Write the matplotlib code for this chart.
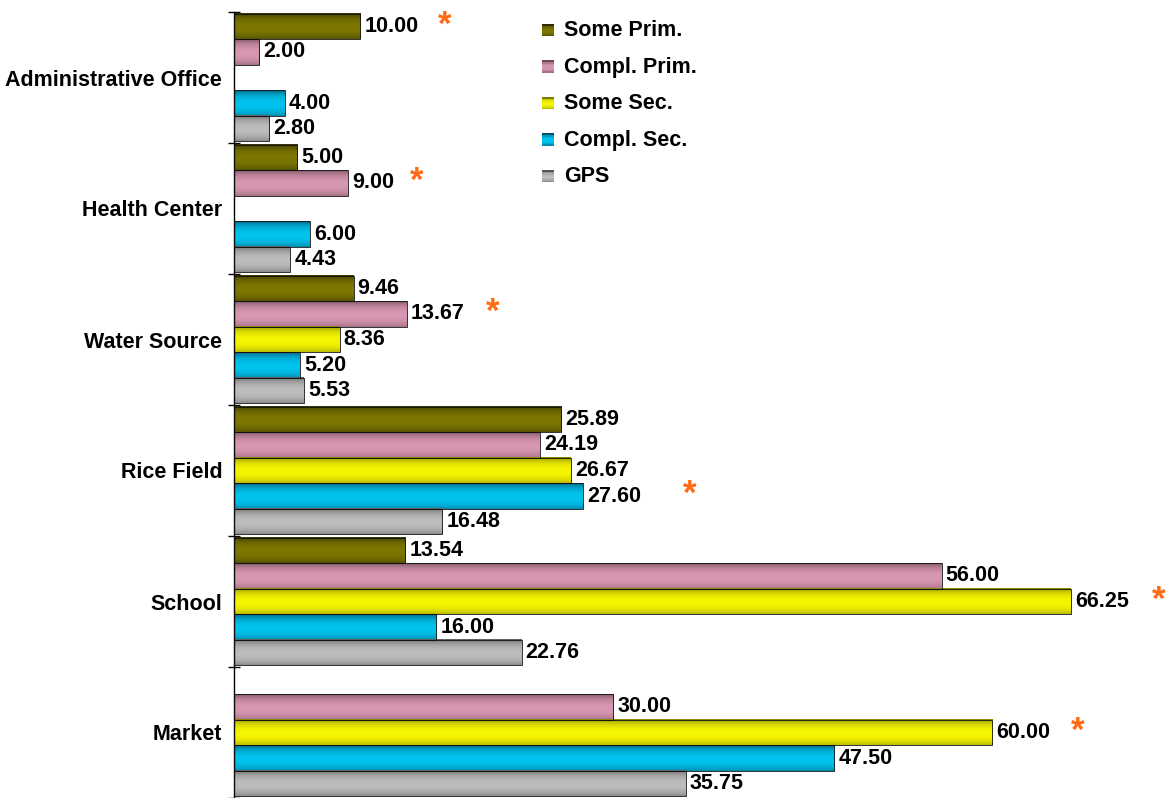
import numpy as np
import matplotlib
matplotlib.use("Agg")
import matplotlib.pyplot as plt
from matplotlib.patches import Rectangle
from matplotlib.legend_handler import HandlerBase
from matplotlib.colors import to_rgb

plt.rcParams['font.family'] = ['Liberation Sans', 'DejaVu Sans']
plt.rcParams['font.weight'] = 'bold'

categories = ["Administrative Office", "Health Center", "Water Source",
              "Rice Field", "School", "Market"]
series_names = ["Some Prim.", "Compl. Prim.", "Some Sec.", "Compl. Sec.", "GPS"]
some_prim = [10.00, 5.00, 9.46, 25.89, 13.54, np.nan]
compl_prim = [2.00, 9.00, 13.67, 24.19, 56.00, 30.00]
some_sec = [np.nan, np.nan, 8.36, 26.67, 66.25, 60.00]
compl_sec = [4.00, 6.00, 5.20, 27.60, 16.00, 47.50]
gps = [2.80, 4.43, 5.53, 16.48, 22.76, 35.75]
star_series = [0, 1, 1, 3, 2, 2]  # series index marked with * in each category

series = [some_prim, compl_prim, some_sec, compl_sec, gps]
# (edge colour, centre colour)
colors = [("#2e2c00", "#7d7700"),
          ("#6e4858", "#d897b2"),
          ("#7a7a00", "#f6f600"),
          ("#00506e", "#00c4ee"),
          ("#555555", "#bdbdbd")]
star_dx = [61, 50, 62, 77, 63, 62]  # asterisk offset from bar end (points)

W, H = 1171, 798
fig = plt.figure(figsize=(W / 100, H / 100), dpi=100)
ax_left = 234 / W
ax_top = 12 / H
ax = fig.add_axes([ax_left, 0, 1 - ax_left, 1 - ax_top])

px_per_unit = (1071 - 234) / 66.25
xmax = (W - 234) / px_per_unit
n = len(categories)

def profile(c_edge, c_mid, N=64):
    e = np.array(to_rgb(c_edge)); m = np.array(to_rgb(c_mid))
    t = np.linspace(0, 1, N)
    w = np.clip(1 - ((t - 0.55) / 0.55) ** 2, 0, 1) ** 0.6
    return e[None, :] * (1 - w[:, None]) + m[None, :] * w[:, None]

FS = 15.5
bh = 0.195
ns = len(series)
for s, vals in enumerate(series):
    grad = profile(*colors[s])[:, None, :]
    for i, v in enumerate(vals):
        if np.isnan(v):
            continue
        y0 = i + (1 - ns * bh) / 2 + s * bh
        y1 = y0 + bh
        ax.imshow(grad, extent=(0, v, y1, y0), aspect='auto',
                  interpolation='bilinear', zorder=2)
        ax.add_patch(Rectangle((0, y0), v, bh, fill=False, edgecolor='#111111',
                               linewidth=0.6, zorder=3))
        ax.annotate(f"{v:.2f}", xy=(v, (y0 + y1) / 2), xytext=(3, 0),
                    textcoords='offset points', ha='left', va='center',
                    fontsize=FS, fontweight='bold', color='black', zorder=4)

for i, s in enumerate(star_series):
    v = series[s][i]
    y0 = i + (1 - ns * bh) / 2 + s * bh
    ax.annotate("*", xy=(v, y0 + bh / 2), xytext=(star_dx[i], 1),
                textcoords='offset points', ha='center', va='center',
                fontsize=25, fontweight='bold', color='#ff6a13', zorder=4)

ax.set_xlim(0, xmax)
ax.set_ylim(n, 0)
for sp in ['top', 'right', 'bottom']:
    ax.spines[sp].set_visible(False)
ax.spines['left'].set_linewidth(1.0)
ax.set_xticks([])
ax.set_yticks(np.arange(n) + 0.5)
ax.set_yticklabels(categories, fontsize=FS, fontweight='bold')
ax.tick_params(axis='y', which='major', length=0, pad=8.5)
ax.set_yticks(np.arange(n + 1), minor=True)
ax.tick_params(axis='y', which='minor', direction='inout', length=9, width=1.0)


class GradHandler(HandlerBase):
    def __init__(self, idx):
        super().__init__()
        self.idx = idx

    def create_artists(self, legend, orig_handle, xdescent, ydescent, width,
                       height, fontsize, trans):
        prof = profile(*colors[self.idx], N=8)
        arts = []
        size = 9.0
        x0 = -xdescent + (width - size) / 2
        yb = -ydescent + (height - size) / 2 - 1
        k = len(prof)
        for j, c in enumerate(prof):
            r = Rectangle((x0, yb + size - (j + 1) * size / k), size, size / k,
                          facecolor=c, edgecolor='none', transform=trans)
            arts.append(r)
        return arts

handles = [Rectangle((0, 0), 1, 1) for _ in series_names]
leg = fig.legend(handles, series_names, loc='upper left',
                 bbox_to_anchor=(521 / W, 1 - 1 / H), frameon=False,
                 handler_map={h: GradHandler(k) for k, h in enumerate(handles)},
                 prop={'size': FS, 'weight': 'bold'}, labelspacing=0.72,
                 handlelength=0.7, handletextpad=0.4)

fig.savefig("out.png", dpi=100)
